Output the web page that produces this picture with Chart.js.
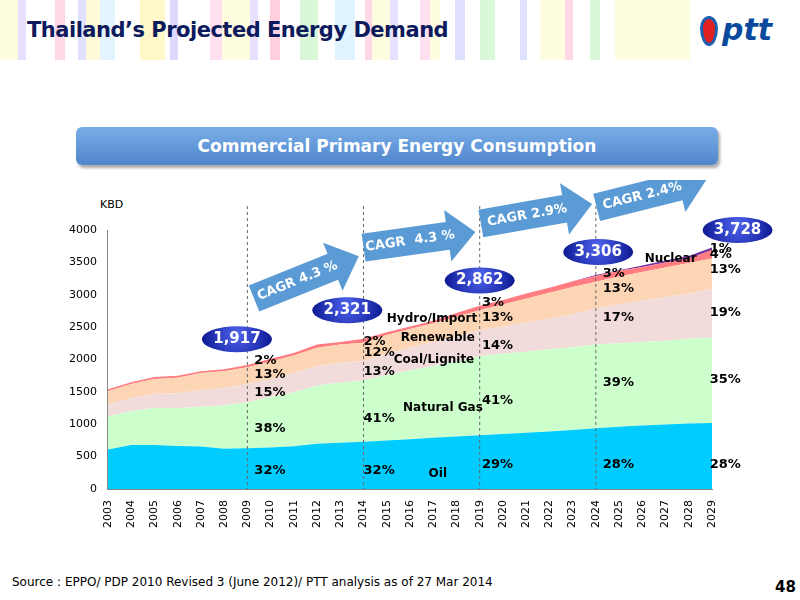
<!DOCTYPE html>
<html><head><meta charset="utf-8">
<script src="https://cdn.jsdelivr.net/npm/chart.js@4.4.0/dist/chart.umd.min.js"></script>
<style>
body{margin:0;width:800px;height:600px;position:relative;background:#fff;font-family:"DejaVu Sans",Verdana,sans-serif;overflow:hidden}
#hdr{position:absolute;left:0;top:0;width:690px;height:60px;
background:linear-gradient(90deg,#fffde0 0,#fffde0 18px,#e8e0ff 18px,#e8e0ff 26px,#fff 26px,#fff 55px,#ffd8e8 55px,#ffd8e8 65px,#fff 65px,#fff 78px,#e0e0ff 78px,#e0e0ff 86px,#fffbd8 86px,#fffbd8 100px,#e4f4ff 100px,#e4f4ff 115px,#fff 115px,#fff 140px,#fff8c8 140px,#fff8c8 165px,#fff 165px,#fff 170px,#e0d8ff 170px,#e0d8ff 178px,#fff 178px,#fff 210px,#ffe0f0 210px,#ffe0f0 222px,#fffde0 222px,#fffde0 250px,#e8e0ff 250px,#e8e0ff 258px,#fff 258px,#fff 270px,#ffd0e0 270px,#ffd0e0 280px,#fff 280px,#fff 300px,#d8f8d8 300px,#d8f8d8 318px,#fff 318px,#fff 335px,#e0f4ff 335px,#e0f4ff 355px,#fff 355px,#fff 365px,#ffd8e8 365px,#ffd8e8 372px,#fffde0 372px,#fffde0 390px,#e8e0ff 390px,#e8e0ff 398px,#fff 398px,#fff 420px,#ffe0f0 420px,#ffe0f0 430px,#fffde0 430px,#fffde0 440px,#fff 440px,#fff 455px,#e0e0ff 455px,#e0e0ff 465px,#fff 465px,#fff 480px,#d8f8d8 480px,#d8f8d8 495px,#fff 495px,#fff 520px,#e0e0ff 520px,#e0e0ff 527px,#fff 527px,#fff 540px,#fffde0 540px,#fffde0 565px,#ffd8e8 565px,#ffd8e8 573px,#fff 573px,#fff 590px,#d8f8d8 590px,#d8f8d8 600px,#fff 600px,#fff 615px,#fffde0 615px,#fffde0 690px)}
#title{position:absolute;left:27px;top:18px;font:bold 21px "DejaVu Sans";color:#0d1a5c;letter-spacing:-0.5px}
#logo{position:absolute;left:722px;top:12px;font:italic bold 30px "DejaVu Sans";color:#0a4a9e}
#drop{position:absolute;left:700px;top:16px;width:12px;height:24px;border-radius:50% 50% 50% 50%/40% 40% 60% 60%;background:#e02020;border:3px solid #1a5fb0}
#banner{position:absolute;left:76px;top:127px;width:642px;height:38px;border-radius:6px;background:linear-gradient(#7aaee8,#4f86cc);box-shadow:2px 3px 3px #aaa;color:#fff;font:bold 17px "DejaVu Sans";text-align:center;line-height:38px}
#src{position:absolute;left:12px;top:575px;font:12px "DejaVu Sans";color:#000}
#pg{position:absolute;left:775px;top:578px;font:bold 15px "DejaVu Sans";color:#000}
#kbd{position:absolute;left:100px;top:198px;font:11px "DejaVu Sans"}
#cv{position:absolute;left:0;top:180px}
</style></head><body>
<div id="hdr"></div>
<div id="title">Thailand’s Projected Energy Demand</div>
<div id="drop"></div><div id="logo">ptt</div>
<div id="banner">Commercial Primary Energy Consumption</div>
<div id="kbd">KBD</div>
<div id="src">Source : EPPO/ PDP 2010 Revised 3 (June 2012)/ PTT analysis as of 27 Mar 2014</div>
<div id="pg">48</div>
<canvas id="cv" width="800" height="360"></canvas>
<script>
const years=['2003','2004','2005','2006','2007','2008','2009','2010','2011','2012','2013','2014','2015','2016','2017','2018','2019','2020','2021','2022','2023','2024','2025','2026','2027','2028','2029'];
// cumulative tops of each layer (KBD)
const oilTop=[610,680,680,665,655,620,630,640,660,700,715,730,750,770,790,810,830,850,870,890,910,940,960,980,995,1010,1020];
const gasTop=[1120,1200,1250,1250,1270,1290,1340,1420,1490,1600,1640,1680,1760,1830,1900,1970,2050,2090,2120,2160,2190,2230,2250,2270,2290,2320,2340];
const coalTop=[1310,1400,1470,1480,1530,1560,1620,1700,1790,1900,1950,1980,2090,2180,2270,2350,2450,2510,2570,2630,2700,2790,2850,2910,2960,3020,3090];
const renewTop=[1510,1620,1700,1720,1790,1820,1880,1970,2060,2180,2230,2260,2380,2470,2560,2660,2760,2850,2940,3030,3120,3200,3280,3350,3420,3490,3560];
const hydroTop=[1540,1650,1730,1750,1820,1850,1917,2010,2100,2230,2270,2321,2420,2510,2600,2720,2830,2920,3020,3110,3210,3290,3370,3430,3500,3560,3690];
const nuclearTop=[1540,1650,1730,1750,1820,1850,1917,2010,2100,2230,2270,2321,2420,2510,2600,2720,2830,2920,3020,3110,3210,3306,3380,3450,3530,3600,3728];

function ds(label,data,color,fill){return {label,data,backgroundColor:color,borderColor:color,borderWidth:0,fill,pointRadius:0,tension:0};}

const notes=[
 [6.3,1990,'2%'],[6.3,1770,'13%'],[6.3,1490,'15%'],[6.3,930,'38%'],[6.3,280,'32%'],
 [11.0,2270,'2%'],[11.0,2110,'12%'],[11.0,1820,'13%'],[11.0,1080,'41%'],[11.0,280,'32%'],
 [16.1,2880,'3%'],[16.1,2640,'13%'],[16.1,2210,'14%'],[16.1,1370,'41%'],[16.1,370,'29%'],
 [21.3,3330,'3%'],[21.3,3100,'13%'],[21.3,2640,'17%'],[21.3,1650,'39%'],[21.3,380,'28%'],
 [25.9,3720,'1%'],[25.9,3620,'4%'],[25.9,3390,'13%'],[25.9,2720,'19%'],[25.9,1690,'35%'],[25.9,370,'28%']];
const names=[[12.0,2620,'Hydro/Import'],[12.6,2330,'Renewable'],[12.3,2000,'Coal/Lignite'],[12.7,1250,'Natural Gas'],[13.8,240,'Oil'],[23.1,3550,'Nuclear']];
const ellipses=[[5.55,2314,'1,917'],[10.3,2760,'2,321'],[16.0,3220,'2,862'],[21.1,3660,'3,306'],[27.1,4000,'3,728']];
const arrows=[[305,98,-22,'CAGR 4.3 %'],[418,60,-8,'CAGR  4.3 %'],[535,34,-10,'CAGR 2.9%'],[650,14,-14,'CAGR 2.4%']];

const overlay={id:'ov',afterDraw(c){
 const g=c.ctx,x=c.scales.x,y=c.scales.y;
 const px=v=>x.left+(x.right-x.left)*v/26;
 g.save();
 g.setLineDash([3,3]);g.strokeStyle='#666';g.lineWidth=1;
 [6,11,16,21].forEach(i=>{const xx=x.getPixelForValue(i);g.beginPath();g.moveTo(xx,26);g.lineTo(xx,y.bottom);g.stroke();});
 g.setLineDash([]);
 g.fillStyle='#000';g.font='bold 13px "DejaVu Sans"';g.textAlign='left';g.textBaseline='middle';
 notes.forEach(n=>g.fillText(n[2],px(n[0]),y.getPixelForValue(n[1])));
 g.font='bold 12px "DejaVu Sans"';
 names.forEach(n=>g.fillText(n[2],px(n[0]),y.getPixelForValue(n[1])));
 ellipses.forEach(e=>{const cx=px(e[0]),cy=y.getPixelForValue(e[1]);
  const gr=g.createRadialGradient(cx,cy-6,3,cx,cy,36);gr.addColorStop(0,'#4a5ee8');gr.addColorStop(1,'#0b1790');
  g.fillStyle=gr;g.beginPath();g.ellipse(cx,cy,35,13,0,0,7);g.fill();
  g.fillStyle='#fff';g.font='bold 15px "DejaVu Sans"';g.textAlign='center';g.fillText(e[2],cx,cy);g.textAlign='left';});
 arrows.forEach(a=>{g.save();g.translate(a[0],a[1]);g.rotate(a[2]*Math.PI/180);
  g.fillStyle='#5b9bd5';g.beginPath();g.moveTo(-55,-14);g.lineTo(30,-14);g.lineTo(30,-26);g.lineTo(58,0);g.lineTo(30,26);g.lineTo(30,14);g.lineTo(-55,14);g.closePath();g.fill();
  g.fillStyle='#fff';g.font='bold 13px "DejaVu Sans"';g.textAlign='center';g.fillText(a[3],-8,0);g.restore();});
 g.restore();}};

new Chart(document.getElementById('cv'),{type:'line',
 data:{labels:years,datasets:[
  ds('Oil',oilTop,'#00ccff','origin'),
  ds('Natural Gas',gasTop,'#ccffcc','-1'),
  ds('Coal/Lignite',coalTop,'#f2dcdb','-1'),
  ds('Renewable',renewTop,'#fcd5b4','-1'),
  ds('Hydro/Import',hydroTop,'#ff7c80','-1'),
  ds('Nuclear',nuclearTop,'#7030a0','-1')]},
 options:{responsive:false,animation:false,
  layout:{padding:{left:66,right:88,top:50,bottom:9}},
  plugins:{legend:{display:false},tooltip:{enabled:false}},
  scales:{x:{grid:{display:false},border:{color:'#888'},ticks:{color:'#000',font:{size:11,family:'"DejaVu Sans"'},maxRotation:90,minRotation:90,autoSkip:false}},
   y:{min:0,max:4000,grid:{display:false},border:{color:'#888'},ticks:{stepSize:500,color:'#000',callback:v=>String(v),font:{size:11,family:'"DejaVu Sans"'}}}}},
 plugins:[overlay]});
</script></body></html>
